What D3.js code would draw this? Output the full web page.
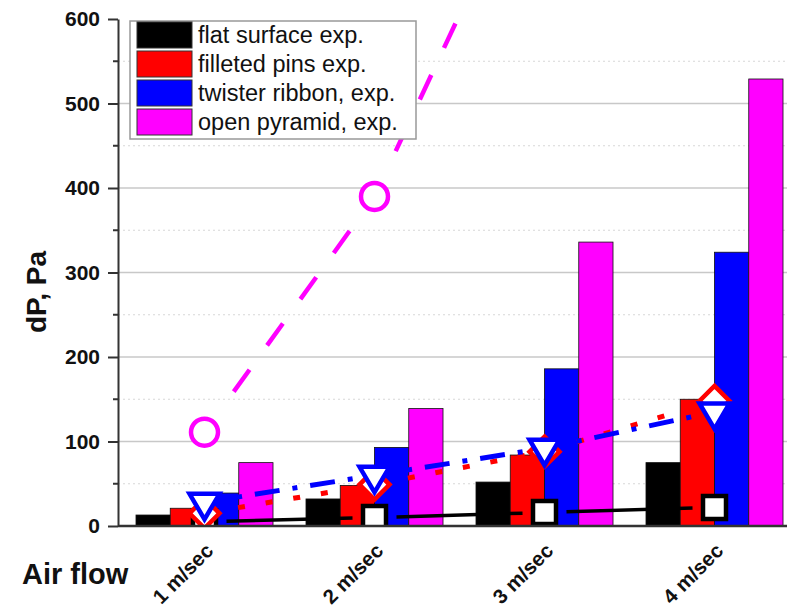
<!DOCTYPE html>
<html><head><meta charset="utf-8">
<script src="https://cdn.jsdelivr.net/npm/d3@7"></script>
<style>body{margin:0;background:#fff}svg{display:block}</style>
</head><body><svg id="c" width="787" height="612"></svg>
<script>
// ---- data ----
const categories = ["1 m/sec", "2 m/sec", "3 m/sec", "4 m/sec"];
const seriesNames = ["flat surface exp.", "filleted pins exp.", "twister ribbon, exp.", "open pyramid, exp."];
const seriesColors = ["#000000", "#ff0000", "#0000ff", "#ff00ff"];
const flatExp = [13, 32, 52, 75];
const pinsExp = [21, 48, 84, 150];
const ribbonExp = [39, 93, 186, 324];
const pyramidExp = [75, 139, 336, 529];
const flatModel = [5, 10, 16, 22];
const pinsModel = [15, 49, 88, 148];
const ribbonModel = [28, 60, 92, 135];
const pyramidModel = [111, 390, 820];
const yMajorTicks = [0, 100, 200, 300, 400, 500, 600];
const yMinorTicks = [50, 150, 250, 350, 450, 550];
const yLabel = "dP, Pa";
const xLabel = "Air flow";

const expSeries = [flatExp, pinsExp, ribbonExp, pyramidExp];

// ---- layout ----
const svg = d3.select("#c");
const pLeft = 118, pBottom = 526, pTop = 19, pRight = 799.5;
const font = "'Liberation Sans', Arial, Helvetica, sans-serif";

const y = d3.scaleLinear().domain([0, 600]).range([pBottom, pTop]);
const x0 = d3.scaleBand().domain(categories).range([119.5, pRight]).paddingInner(0.194).paddingOuter(0.097);
const x1 = d3.scaleBand().domain(d3.range(seriesNames.length)).range([0, x0.bandwidth()]);
const cx = i => x0(categories[i]) + x0.bandwidth() / 2;

const defs = svg.append("defs");
defs.append("clipPath").attr("id", "clipL").append("rect")
  .attr("x", pLeft).attr("y", pTop).attr("width", 800).attr("height", pBottom - pTop);
defs.append("clipPath").attr("id", "clipM").append("rect")
  .attr("x", pLeft).attr("y", 0).attr("width", 800).attr("height", pBottom);

// grid
svg.append("g").selectAll("line").data(yMinorTicks).join("line")
  .attr("x1", pLeft).attr("x2", 787).attr("y1", d => y(d)).attr("y2", d => y(d))
  .attr("stroke", "#d8d8d8").attr("stroke-width", 1.2).attr("stroke-dasharray", "2,3");
svg.append("g").selectAll("line").data(yMajorTicks.filter(d => d > 0 && d < 600)).join("line")
  .attr("x1", pLeft).attr("x2", 787).attr("y1", d => y(d)).attr("y2", d => y(d))
  .attr("stroke", "#c8c8c8").attr("stroke-width", 1.5);

// bars
const barG = svg.append("g");
categories.forEach((c, ci) => {
  expSeries.forEach((s, si) => {
    barG.append("rect")
      .attr("x", x0(c) + x1(si)).attr("width", x1.bandwidth())
      .attr("y", y(s[ci])).attr("height", y(0) - y(s[ci]))
      .attr("fill", seriesColors[si]).attr("stroke", "#111").attr("stroke-width", 0.8);
  });
});

// model lines + markers
const lineGen = d3.line();
function segments(vals, gap) {
  const pts = vals.map((v, i) => [cx(i), y(v)]);
  const segs = [];
  for (let i = 0; i < pts.length - 1; i++) {
    const [ax, ay] = pts[i], [bx, by] = pts[i + 1];
    const dx = bx - ax, dy = by - ay, L = Math.hypot(dx, dy);
    const ux = dx / L, uy = dy / L;
    segs.push([[ax + ux * gap, ay + uy * gap], [bx - ux * gap, by - uy * gap]]);
  }
  return segs;
}
function drawLine(vals, color, width, dash, offset, gap) {
  svg.append("g").attr("clip-path", "url(#clipL)").selectAll("path")
    .data(segments(vals, gap)).join("path")
    .attr("d", lineGen).attr("fill", "none").attr("stroke", color)
    .attr("stroke-width", width)
    .attr("stroke-dasharray", dash).attr("stroke-dashoffset", offset);
}
const markerPaths = {
  square: "M-11.5,-11.5H11.5V11.5H-11.5Z",
  diamond: "M0,-15L15,0L0,15L-15,0Z",
  tri: "M-15,-8.5L15,-8.5L0,17Z",
  circle: d3.symbol(d3.symbolCircle, Math.PI * 13.5 * 13.5)()
};
function drawMarkers(vals, color, shape) {
  svg.append("g").attr("clip-path", "url(#clipM)").selectAll("path")
    .data(vals).join("path")
    .attr("transform", (v, i) => `translate(${cx(i)},${y(v)})`)
    .attr("d", markerPaths[shape])
    .attr("fill", "#fff").attr("stroke", color).attr("stroke-width", 4.5)
    .attr("stroke-linejoin", "miter");
}

drawLine(flatModel, "#000", 3.5, null, 0, 22);
drawMarkers(flatModel, "#000", "square");
drawLine(pinsModel, "#ff0000", 5, "7,21", -14, 20);
drawMarkers(pinsModel, "#ff0000", "diamond");
drawLine(ribbonModel, "#0000ff", 5, "5,13,25,13", -13, 20);
drawMarkers(ribbonModel, "#0000ff", "tri");
drawLine(pyramidModel, "#ff00ff", 4.5, "27,30", -30, 20);
drawMarkers(pyramidModel, "#ff00ff", "circle");

// y axis
const yAxis = d3.axisLeft(y).tickValues(yMajorTicks).tickSize(10).tickSizeOuter(0).tickPadding(8);
const yg = svg.append("g").attr("transform", `translate(${pLeft},0)`).call(yAxis);
yg.select(".domain").attr("stroke", "#333").attr("stroke-width", 2);
yg.selectAll(".tick line").attr("stroke", "#333").attr("stroke-width", 2);
yg.selectAll(".tick text").attr("font-family", font).attr("font-weight", "bold")
  .attr("font-size", 21).attr("fill", "#111");
yg.append("g").selectAll("line").data(yMinorTicks).join("line")
  .attr("x1", -5).attr("x2", 0).attr("y1", d => y(d)).attr("y2", d => y(d))
  .attr("stroke", "#333").attr("stroke-width", 2);

// x axis
const xAxis = d3.axisBottom(x0).tickSize(0).tickSizeOuter(0);
const xg = svg.append("g").attr("transform", `translate(0,${pBottom})`).call(xAxis);
xg.select(".domain").attr("stroke", "#333").attr("stroke-width", 2.5)
  .attr("d", `M${pLeft},0H${787}`);
xg.selectAll(".tick text")
  .attr("font-family", font).attr("font-weight", "bold").attr("font-size", 20.5).attr("fill", "#111")
  .attr("text-anchor", "end").attr("x", 0).attr("y", 0).attr("dy", 0)
  .attr("transform", "translate(10,26) rotate(-45)");

// axis titles
svg.append("text").attr("transform", "translate(46,292) rotate(-90)")
  .attr("text-anchor", "middle").attr("font-family", font).attr("font-weight", "bold")
  .attr("font-size", 28).attr("fill", "#111").text(yLabel);
svg.append("text").attr("x", 22).attr("y", 584)
  .attr("font-family", font).attr("font-weight", "bold")
  .attr("font-size", 29).attr("fill", "#111").text(xLabel);

// legend
const lg = svg.append("g");
lg.append("rect").attr("x", 130).attr("y", 21).attr("width", 286).attr("height", 118)
  .attr("fill", "#fff").attr("stroke", "#999").attr("stroke-width", 1.5);
seriesNames.forEach((n, i) => {
  const ry = 22 + i * 29;
  lg.append("rect").attr("x", 137).attr("y", ry).attr("width", 55).attr("height", 26)
    .attr("fill", seriesColors[i]).attr("stroke", "#333").attr("stroke-width", 1);
  lg.append("text").attr("x", 198).attr("y", ry + 20.5)
    .attr("font-family", font).attr("font-size", 23.5).attr("fill", "#111").text(n);
});
</script></body></html>
